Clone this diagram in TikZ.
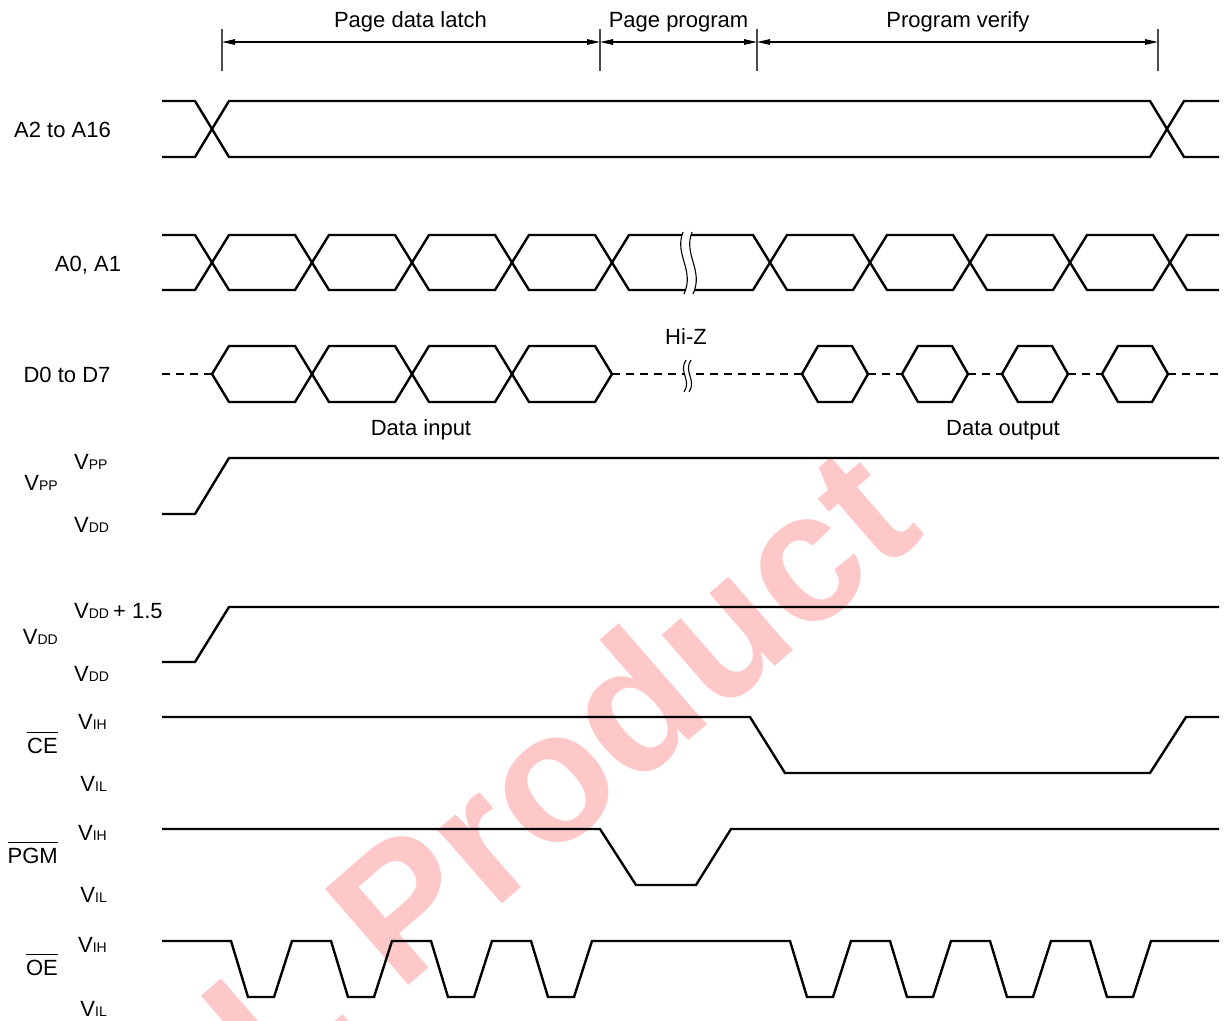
\documentclass[tikz,border=0pt]{standalone}
\usepackage{fontspec}
\setmainfont{Liberation Sans}
\usetikzlibrary{arrows.meta}
\newcommand{\sbs}[1]{{\fontsize{14}{16}\selectfont #1}}
\newcommand{\ovl}[1]{\setbox0\hbox{#1}\rlap{\raisebox{\dimexpr\ht0+4.5pt\relax}{\rule{\wd0}{1.3pt}}}\box0}
\definecolor{wmred}{RGB}{255,200,200}
\begin{document}
\begin{tikzpicture}[x=1pt,y=-1pt,
  sig/.style={line width=2.4pt,line join=miter},
  dsig/.style={line width=2.4pt,dash pattern=on 8pt off 6pt},
  brk/.style={line width=1.1pt},
  dimline/.style={line width=1.2pt,{Triangle[length=13pt,width=5.5pt]}-{Triangle[length=13pt,width=5.5pt]}},
  tick/.style={line width=1.2pt,black!70},
  lab/.style={inner sep=0pt,font=\fontsize{22}{26}\selectfont},
  wm/.style={inner sep=0pt,text=wmred,font=\fontsize{185}{200}\selectfont\bfseries}]
\useasboundingbox (0,0) rectangle (1225,1020);
% watermark
\begin{scope}
\clip (0,0) rectangle (1225,1020);
\node[wm,rotate=41,anchor=base west] (wmark) at (275,1101) {L Product};
\end{scope}
% dimension ticks and arrows
\foreach \n/\x in {t1/222,t2/600,t3/757,t4/1158}{
  \coordinate (\n top) at (\x,29);
  \coordinate (\n bot) at (\x,71);
  \coordinate (\n) at (\x,42);
  \draw[tick] (\n top) -- (\n bot);
}
\draw[dimline] (t1) -- (t2);
\draw[dimline] (t2) -- (t3);
\draw[dimline] (t3) -- (t4);
\node[lab,anchor=base] (l1) at (410.5,27) {Page data latch};
\node[lab,anchor=base] (l2) at (678.5,27) {Page program};
\node[lab,anchor=base] (l3) at (958,27) {Program verify};
% A2 to A16
\node[lab,anchor=base west] (na2) at (14,137) {A2 to A16};
\draw[sig] (162,101) -- (195,101) -- (229,157) -- (1150,157) -- (1184,101) -- (1219,101);
\draw[sig] (162,157) -- (195,157) -- (229,101) -- (1150,101) -- (1184,157) -- (1219,157);
% A0, A1
\node[lab,anchor=base] (na0) at (88,271) {A0, A1};
\draw[sig] (162,235) -- (195,235) -- (212,262.5) -- (195,290) -- (162,290);
\draw[sig] (1219,235) -- (1187,235) -- (1170,262.5) -- (1187,290) -- (1219,290);
\foreach \a/\b in {212/312,312/412,412/512,512/612,612/770,770/870,870/970,970/1070,1070/1170}{
  \draw[sig] (\a,262.5) -- (\a+17,235) -- (\b-17,235) -- (\b,262.5) -- (\b-17,290) -- (\a+17,290) -- cycle;
}
% break in A0, A1
\fill[white] (683,232) .. controls (674,255) and (695,270) .. (684,294) -- (693,294) .. controls (704,270) and (683,255) .. (692,232) -- cycle;
\draw[brk] (683,232) .. controls (674,255) and (695,270) .. (684,294);
\draw[brk] (692,232) .. controls (683,255) and (704,270) .. (693,294);
% D0 to D7
\node[lab,anchor=base] (nd0) at (67,382) {D0 to D7};
\draw[dsig] (162,374) -- (212,374);
\foreach \a/\b in {212/312,312/412,412/512,512/612}{
  \draw[sig] (\a,374) -- (\a+17,346) -- (\b-17,346) -- (\b,374) -- (\b-17,402) -- (\a+17,402) -- cycle;
}
\draw[dsig] (612,374) -- (802,374);
\foreach \x in {802,902,1002,1102}{
  \draw[sig] (\x,374) -- (\x+16,346) -- (\x+50,346) -- (\x+66,374) -- (\x+50,402) -- (\x+16,402) -- cycle;
}
\foreach \a/\b in {868/902,968/1002,1068/1102,1168/1219}{
  \draw[dsig] (\a,374) -- (\b,374);
}
\fill[white] (686,360) .. controls (678,372) and (692,380) .. (684,392) -- (689,392) .. controls (697,380) and (683,372) .. (691,360) -- cycle;
\draw[brk] (686,360) .. controls (678,372) and (692,380) .. (684,392);
\draw[brk] (691,360) .. controls (683,372) and (697,380) .. (689,392);
\node[lab,anchor=base] (hiz) at (686,344) {Hi-Z};
\node[lab,anchor=base] (din) at (421,435) {Data input};
\node[lab,anchor=base] (dout) at (1003,435) {Data output};
% VPP
\node[lab,anchor=base east] (nvpp) at (58,490) {V\sbs{PP}};
\node[lab,anchor=base west] (vpph) at (74,469) {V\sbs{PP}};
\node[lab,anchor=base west] (vppl) at (74,532) {V\sbs{DD}};
\draw[sig] (162,514) -- (195,514) -- (229,458) -- (1219,458);
% VDD
\node[lab,anchor=base east] (nvdd) at (58,644) {V\sbs{DD}};
\node[lab,anchor=base west] (vddh) at (74,618) {V\sbs{DD}\kern4pt+ 1.5};
\node[lab,anchor=base west] (vddl) at (74,681) {V\sbs{DD}};
\draw[sig] (162,662) -- (195,662) -- (229,607) -- (1219,607);
% CE
\node[lab,anchor=base east] (nce) at (58,753) {\ovl{CE}};
\node[lab,anchor=base east] (ceh) at (107,729) {V\sbs{IH}};
\node[lab,anchor=base east] (cel) at (107,791) {V\sbs{IL}};
\draw[sig] (162,717) -- (750,717) -- (785,773) -- (1150,773) -- (1186,717) -- (1219,717);
% PGM
\node[lab,anchor=base east] (npgm) at (58,863) {\ovl{PGM}};
\node[lab,anchor=base east] (pgmh) at (107,840) {V\sbs{IH}};
\node[lab,anchor=base east] (pgml) at (107,902) {V\sbs{IL}};
\draw[sig] (162,829) -- (600,829) -- (636,885) -- (696,885) -- (731,829) -- (1219,829);
% OE
\node[lab,anchor=base east] (noe) at (58,975) {\ovl{OE}};
\node[lab,anchor=base east] (oeh) at (107,952) {V\sbs{IH}};
\node[lab,anchor=base east] (oel) at (107,1016) {V\sbs{IL}};
\draw[sig] (162,941) \foreach \f in {231,331,431,531,790,890,990,1090}{ -- (\f,941) -- (\f+17,997) -- (\f+43,997) -- (\f+61,941) } -- (1219,941);
\end{tikzpicture}
\end{document}
